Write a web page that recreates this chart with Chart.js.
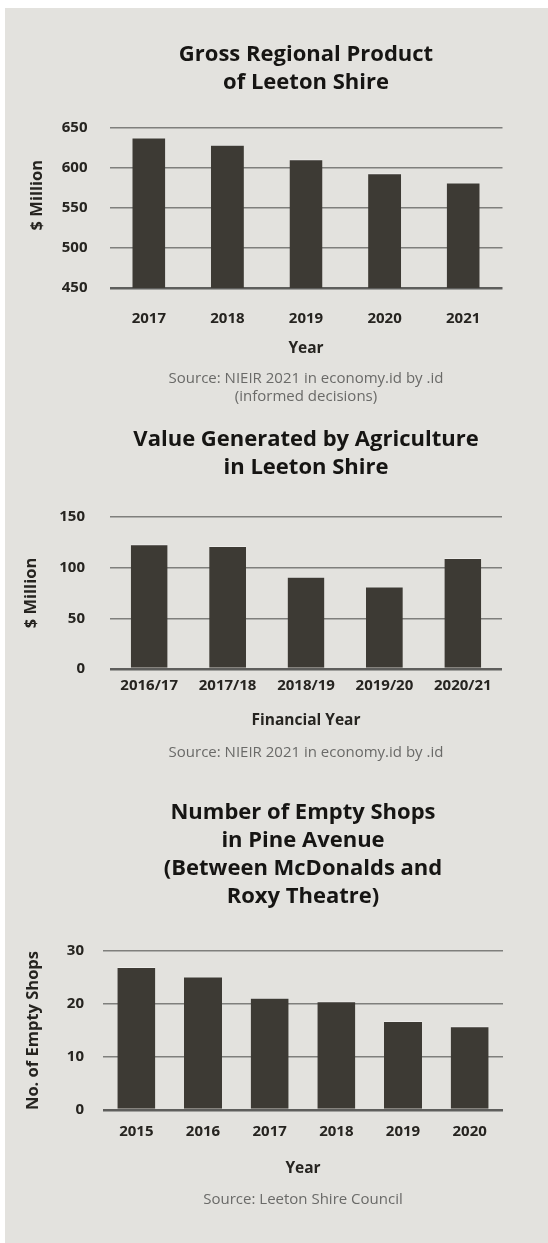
<!DOCTYPE html>
<html>
<head>
<meta charset="utf-8">
<title>Leeton Shire</title>
<script src="https://cdn.jsdelivr.net/npm/chart.js@4/dist/chart.umd.min.js"></script>
<style>
  html, body { margin: 0; padding: 0; background: #fff; overflow: hidden; }
  body { width: 548px; height: 1243px; position: relative; }
  #panel { position: absolute; left: 5px; top: 8px; width: 543px; height: 1235px; background: #e3e2de; }
  .box { position: absolute; left: 5px; width: 543px; }
</style>
</head>
<body>
<div id="panel"></div>
<div class="box" id="box1" style="top:8px;height:401px"><canvas id="grp"></canvas></div>
<div class="box" id="box2" style="top:409px;height:371px"><canvas id="agri"></canvas></div>
<div class="box" id="box3" style="top:780px;height:463px"><canvas id="shops"></canvas></div>

<script>
// Gross regional product, $ million
const grpYears = ["2017", "2018", "2019", "2020", "2021"];
const grpValues = [638, 629, 611, 593.5, 582];
const grpTicks = [450, 500, 550, 600, 650];

// Agriculture value added, $ million
const agriYears = ["2016/17", "2017/18", "2018/19", "2019/20", "2020/21"];
const agriValues = [123, 121.5, 91, 81.5, 109.5];
const agriTicks = [0, 50, 100, 150];

// Empty shops in Pine Avenue
const shopYears = ["2015", "2016", "2017", "2018", "2019", "2020"];
const shopValues = [27, 25.2, 21.2, 20.5, 16.8, 15.8];
const shopTicks = [0, 10, 20, 30];

const BAR = "#3d3a34";
const GRID = "#7f7f7c";
const INK = "#262420";
const FONT = "'Open Sans', 'Noto Sans', sans-serif";

Chart.defaults.font.family = FONT;
Chart.defaults.color = INK;

function barChart(id, g) {
  return new Chart(document.getElementById(id), {
    type: "bar",
    data: {
      labels: g.labels,
      datasets: [{
        data: g.values,
        backgroundColor: BAR,
        borderColor: "rgba(255,255,255,0.35)",
        borderWidth: { top: 1, left: 0, right: 0, bottom: 0 },
        borderSkipped: "bottom",
        categoryPercentage: 1,
        barPercentage: g.barPct
      }]
    },
    options: {
      responsive: true,
      maintainAspectRatio: false,
      animation: false,
      layout: { padding: { left: 0, right: g.right, top: 0, bottom: 0 } },
      plugins: {
        legend: { display: false },
        tooltip: { enabled: false },
        title: {
          display: true,
          text: g.title,
          fullSize: false,
          color: "#161513",
          font: { size: 22, weight: "bold", lineHeight: 28 / 22 },
          padding: { top: g.titleTop, bottom: g.titleBottom }
        },
        subtitle: {
          display: true,
          position: "bottom",
          text: g.source,
          fullSize: false,
          color: "#6a6a68",
          font: { size: 15, weight: "normal", lineHeight: 1.2 },
          padding: { top: g.srcTop, bottom: g.srcBottom }
        }
      },
      scales: {
        x: {
          grid: { display: false, drawTicks: false },
          border: { display: false },
          ticks: { padding: g.xPad, font: { size: 15, weight: "bold" }, color: INK, maxRotation: 0 },
          title: {
            display: true,
            text: g.xTitle,
            font: { size: 15.5, weight: "bold", lineHeight: 1.2 },
            padding: 0
          },
          afterFit: s => { s.height = g.xHeight; }
        },
        y: {
          min: g.ticks[0],
          max: g.ticks[g.ticks.length - 1],
          afterBuildTicks: s => { s.ticks = g.ticks.map(v => ({ value: v })); },
          grid: {
            drawTicks: false,
            color: ctx => ctx.index === 0 ? "#5e5e5c" : GRID,
            lineWidth: ctx => ctx.index === 0 ? 2.5 : 1.6
          },
          border: { display: false },
          ticks: { padding: g.yPad, font: { size: 15, weight: "bold" }, color: INK },
          title: {
            display: true,
            text: g.yTitle,
            font: { size: 16.5, weight: "bold", lineHeight: 1.2 },
            padding: { top: g.yTitlePad, bottom: 0 }
          },
          afterFit: s => { s.width = g.yWidth; }
        }
      }
    }
  });
}

barChart("grp", {
  labels: grpYears, values: grpValues, ticks: grpTicks, barPct: 0.42,
  title: ["Gross Regional Product", "of Leeton Shire"], titleTop: 33, titleBottom: 31,
  source: ["Source: NIEIR 2021 in economy.id by .id", "(informed decisions)"], srcTop: 12, srcBottom: 3,
  xTitle: "Year", xHeight: 70, xPad: 22,
  yTitle: "      $ Million", yWidth: 104.5, yPad: 22, yTitlePad: 22, right: 45.5
});

barChart("agri", {
  labels: agriYears, values: agriValues, ticks: agriTicks, barPct: 0.47,
  title: ["Value Generated by Agriculture", "in Leeton Shire"], titleTop: 17, titleBottom: 35,
  source: "Source: NIEIR 2021 in economy.id by .id", srcTop: 14, srcBottom: 18,
  xTitle: "Financial Year", xHeight: 61, xPad: 8,
  yTitle: "$ Million", yWidth: 105, yPad: 25, yTitlePad: 16, right: 46
});

barChart("shops", {
  labels: shopYears, values: shopValues, ticks: shopTicks, barPct: 0.57,
  title: ["Number of Empty Shops", "in Pine Avenue", "(Between McDonalds and", "Roxy Theatre)"], titleTop: 19, titleBottom: 40,
  source: "Source: Leeton Shire Council", srcTop: 13, srcBottom: 34,
  xTitle: "Year", xHeight: 68, xPad: 12.5,
  yTitle: "No. of Empty Shops", yWidth: 98, yPad: 19, yTitlePad: 18, right: 45
});
</script>
</body>
</html>
